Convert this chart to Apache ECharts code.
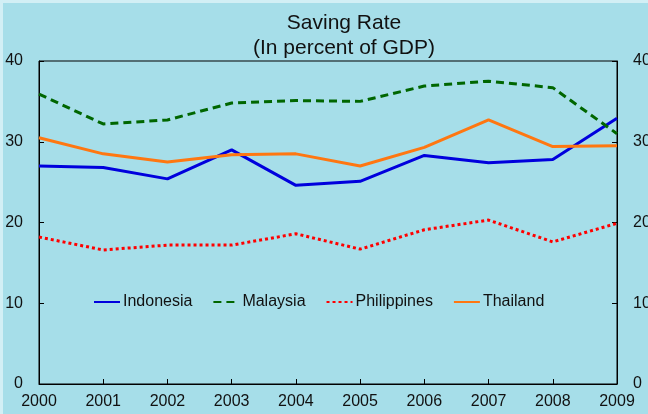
<!DOCTYPE html>
<html lang="en">
<head>
    <meta charset="UTF-8">
    <title>Saving Rate</title>
    <script type="text/javascript" src="https://cdn.jsdelivr.net/npm/echarts@6/dist/echarts.min.js"></script>
    <style>
        html, body { margin:0; padding:0; background:#d2eff5; }
        #main { position:absolute; left:3px; top:3px; width:645px; height:411px; background:#a6dee9; }
    </style>
</head>
<body>
<div id="main"></div>
<script type="text/javascript">
    // data
    var years = ['2000','2001','2002','2003','2004','2005','2006','2007','2008','2009'];
    var indonesia   = [27.0, 26.8, 25.4, 29.0, 24.6, 25.1, 28.3, 27.4, 27.8, 32.9];
    var malaysia    = [35.9, 32.2, 32.7, 34.8, 35.1, 35.0, 36.9, 37.5, 36.7, 31.0];
    var philippines = [18.2, 16.6, 17.2, 17.2, 18.6, 16.7, 19.1, 20.3, 17.6, 19.9];
    var thailand    = [30.5, 28.5, 27.5, 28.4, 28.5, 27.0, 29.3, 32.7, 29.4, 29.5];

    var font = 'Liberation Sans, Arial, sans-serif';

    function yAxisOpt(pos) {
        return {
            type:'value', position:pos, min:0, max:40, interval:10,
            axisLine:{show:true, lineStyle:{color:'#000', width:1}},
            axisTick:{show:true, inside:true, length:5, lineStyle:{color:'#000'}},
            axisLabel:{color:'#111', fontSize:16, fontFamily:font, margin:16},
            splitLine:{show:false}
        };
    }

    function lineSeries(name, data, color, type, width) {
        return {
            name:name, type:'line', data:data,
            symbol:'none', showSymbol:false, animation:false,
            lineStyle:{color:color, width:width, type:type},
            itemStyle:{color:color}
        };
    }

    var myChart = echarts.init(document.getElementById('main'));
    var option = {
        animation:false,
        title:{
            text:'Saving Rate\n(In percent of GDP)',
            left:336, top:3, textAlign:'center',
            textStyle:{fontSize:21, lineHeight:25, fontWeight:'normal', color:'#111', fontFamily:font}
        },
        legend:{
            left:85, top:286, itemWidth:26, itemHeight:14, itemGap:20,
            itemStyle:{color:'transparent', borderWidth:0, opacity:0},
            textStyle:{fontSize:16, color:'#111', fontFamily:font, padding:[0,0,0,-2]},
            data:['Indonesia','Malaysia','Philippines','Thailand']
        },
        grid:{left:36, right:31, top:58, bottom:30, outerBoundsMode:'none',
              show:true, borderColor:'#000', borderWidth:1, backgroundColor:'transparent'},
        xAxis:{
            type:'category', data:years, boundaryGap:false,
            axisLine:{lineStyle:{color:'#000', width:1}},
            axisTick:{inside:true, length:5, lineStyle:{color:'#000'}},
            axisLabel:{color:'#111', fontSize:16, fontFamily:font, margin:10, interval:0},
            splitLine:{show:false}
        },
        yAxis:[yAxisOpt('left'), yAxisOpt('right')],
        series:[
            lineSeries('Indonesia', indonesia, '#0000dd', 'solid', 3),
            lineSeries('Malaysia', malaysia, '#006600', [8,5], 3),
            lineSeries('Philippines', philippines, '#ff0000', [3,3], 3),
            lineSeries('Thailand', thailand, '#ff7711', 'solid', 3)
        ]
    };
    myChart.setOption(option);
</script>
</body>
</html>
